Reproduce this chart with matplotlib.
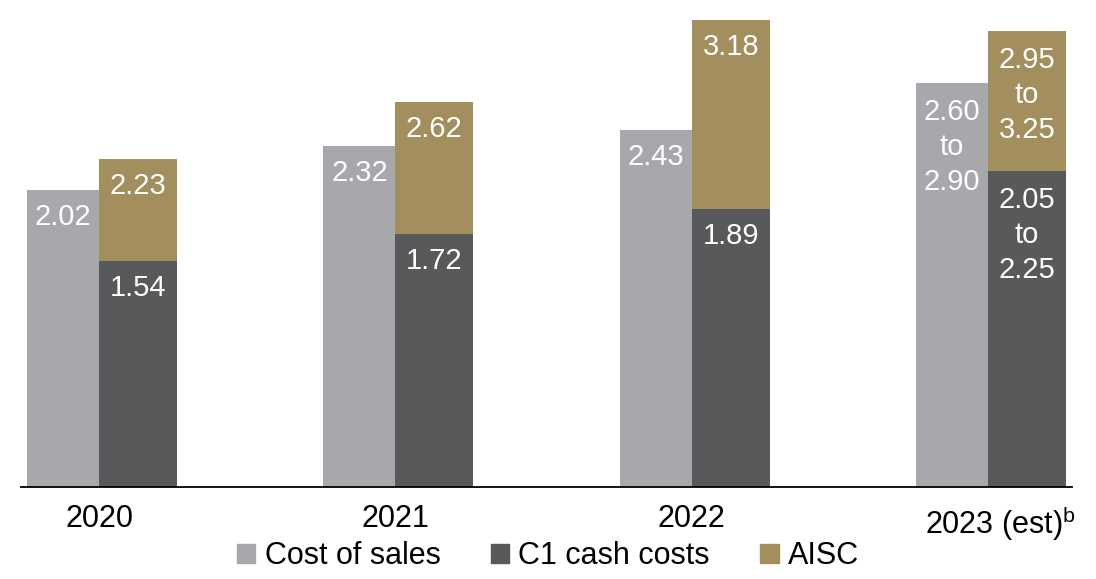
import matplotlib
matplotlib.use("Agg")
import matplotlib.pyplot as plt
import matplotlib.transforms as mtransforms
from matplotlib.patches import Patch

plt.rcParams['font.family'] = ['Liberation Sans', 'DejaVu Sans']

# data
years = ['2020', '2021', '2022', '2023 (est)$^{\\mathregular{b}}$']
cost_of_sales = [2.02, 2.32, 2.43, 2.75]   # 2023 drawn at midpoint of range
c1_cash = [1.54, 1.72, 1.89, 2.15]
aisc = [2.23, 2.62, 3.18, 3.10]
cos_labels = ['2.02', '2.32', '2.43', '2.60\nto\n2.90']
c1_labels = ['1.54', '1.72', '1.89', '2.05\nto\n2.25']
aisc_labels = ['2.23', '2.62', '3.18', '2.95\nto\n3.25']

c_gray = '#a7a8ac'
c_dark = '#58595b'
c_gold = '#a38f5d'

fig = plt.figure(figsize=(10.96, 5.79), dpi=100)
ax = fig.add_axes([20.7 / 1096, 92 / 579, (1072 - 20.7) / 1096, 487 / 579])

x = list(range(len(years)))
wg = 0.243
wd = 0.263
xg = [i - wg / 2 for i in x]
xd = [i + wd / 2 for i in x]

ax.bar(xg, cost_of_sales, width=wg, color=c_gray)
ax.bar(xd, aisc, width=wd, color=c_gold)
ax.bar(xd, c1_cash, width=wd, color=c_dark)

def put_labels(xs, vals, labels):
    for xi, v, lab in zip(xs, vals, labels):
        off = -13 if '\n' not in lab else -15
        ax.annotate(lab, (xi, v), xytext=(0, off), textcoords='offset pixels',
                    ha='center', va='top', color='white', fontsize=21,
                    linespacing=1.32)

put_labels(xg, cost_of_sales, cos_labels)
put_labels(xd, c1_cash, c1_labels)
put_labels(xd, aisc, aisc_labels)

ax.set_xlim(-wg - 0.0213, 3 + wd + 0.02)
ax.set_ylim(0, 487 / 147)
for s in ['top', 'left', 'right']:
    ax.spines[s].set_visible(False)
ax.spines['bottom'].set_linewidth(1.3)
ax.spines['bottom'].set_color('black')
ax.set_yticks([])
ax.set_xticks(x)
ax.set_xticklabels(years, fontsize=22)
ax.tick_params(axis='x', length=0, pad=12)
# last label sits a bit right of the group centre
lbl = ax.get_xticklabels()[-1]
lbl.set_transform(lbl.get_transform() + mtransforms.ScaledTranslation(0.12, 0, fig.dpi_scale_trans))

handles = [Patch(color=c_gray, label='Cost of sales'),
           Patch(color=c_dark, label='C1 cash costs'),
           Patch(color=c_gold, label='AISC')]
fig.legend(handles=handles, loc='center', bbox_to_anchor=(548 / 1096, 1 - 556 / 579),
           ncol=3, frameon=False, fontsize=22, handlelength=0.6, handleheight=0.6,
           handletextpad=0.3, columnspacing=1.65, borderaxespad=0)

fig.savefig('out.png', dpi=100)
